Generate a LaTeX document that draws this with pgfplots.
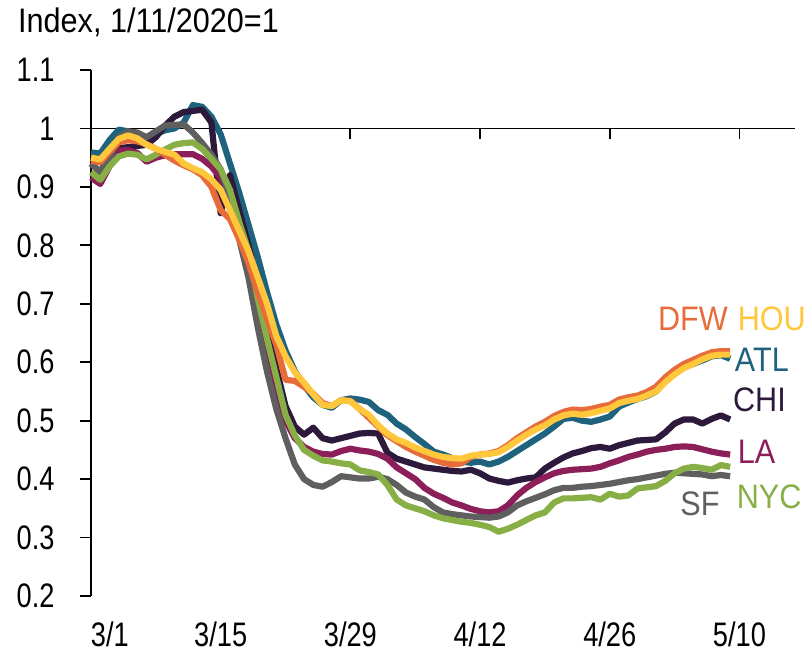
\documentclass[border=0pt]{standalone}
\usepackage{fontspec}
\setmainfont[FakeStretch=0.9]{Liberation Sans}
\newfontfamily\tickfont[FakeStretch=0.8]{Liberation Sans}
\usepackage{pgfplots}
\usepackage{pgfplotstable}
\pgfplotsset{compat=1.18}
\definecolor{cDFW}{HTML}{E86B3A}
\definecolor{cHOU}{HTML}{FFC83C}
\definecolor{cATL}{HTML}{1E627D}
\definecolor{cCHI}{HTML}{2D193C}
\definecolor{cLA}{HTML}{8C1E5A}
\definecolor{cSF}{HTML}{5F5F5F}
\definecolor{cNYC}{HTML}{87AF46}
\pgfplotstableread{
day dfw hou atl chi la sf nyc
0 0.945 0.950 0.959 0.940 0.916 0.940 0.925
1 0.942 0.947 0.957 0.925 0.905 0.925 0.912
2 0.960 0.965 0.980 0.955 0.935 0.950 0.935
3 0.976 0.982 0.998 0.966 0.962 0.985 0.952
4 0.980 0.988 0.995 0.968 0.963 0.995 0.957
5 0.978 0.983 0.990 0.970 0.958 0.993 0.955
6 0.973 0.972 0.982 0.972 0.943 0.985 0.947
7 0.965 0.965 0.990 0.985 0.950 0.995 0.955
8 0.955 0.960 0.997 1.005 0.954 1.005 0.964
9 0.945 0.955 1.000 1.020 0.956 1.006 0.972
10 0.937 0.940 1.010 1.028 0.956 1.007 0.975
11 0.930 0.932 1.040 1.030 0.956 0.993 0.976
12 0.920 0.925 1.037 1.032 0.948 0.975 0.965
13 0.900 0.913 1.020 1.010 0.935 0.955 0.948
14 0.860 0.895 0.990 0.855 0.915 0.930 0.930
15 0.845 0.860 0.940 0.920 0.880 0.880 0.895
16 0.810 0.825 0.890 0.860 0.830 0.810 0.840
17 0.770 0.790 0.835 0.800 0.770 0.745 0.790
18 0.720 0.745 0.780 0.735 0.700 0.660 0.710
19 0.675 0.700 0.720 0.665 0.630 0.584 0.640
20 0.630 0.645 0.665 0.590 0.560 0.520 0.575
21 0.570 0.610 0.620 0.525 0.500 0.470 0.510
22 0.568 0.583 0.585 0.490 0.470 0.425 0.475
23 0.558 0.565 0.560 0.476 0.455 0.400 0.450
24 0.546 0.545 0.540 0.488 0.447 0.390 0.440
25 0.530 0.527 0.527 0.470 0.443 0.387 0.432
26 0.525 0.525 0.522 0.466 0.442 0.395 0.430
27 0.535 0.535 0.535 0.470 0.448 0.405 0.427
28 0.534 0.533 0.538 0.474 0.452 0.403 0.425
29 0.520 0.520 0.536 0.478 0.449 0.401 0.415
30 0.505 0.510 0.532 0.479 0.447 0.401 0.412
31 0.490 0.492 0.518 0.478 0.443 0.404 0.408
32 0.475 0.478 0.510 0.445 0.435 0.400 0.390
33 0.465 0.468 0.495 0.435 0.420 0.390 0.365
34 0.455 0.462 0.485 0.430 0.410 0.377 0.355
35 0.447 0.454 0.472 0.425 0.400 0.370 0.350
36 0.440 0.448 0.460 0.420 0.385 0.365 0.345
37 0.433 0.442 0.447 0.418 0.375 0.352 0.338
38 0.428 0.438 0.442 0.416 0.368 0.343 0.333
39 0.425 0.436 0.436 0.414 0.360 0.340 0.330
40 0.427 0.435 0.430 0.413 0.355 0.338 0.327
41 0.438 0.440 0.428 0.416 0.349 0.336 0.325
42 0.442 0.442 0.430 0.410 0.345 0.335 0.322
43 0.444 0.443 0.425 0.401 0.343 0.334 0.318
44 0.448 0.446 0.430 0.397 0.345 0.336 0.310
45 0.458 0.455 0.438 0.394 0.355 0.343 0.315
46 0.470 0.466 0.448 0.398 0.372 0.355 0.322
47 0.480 0.476 0.458 0.401 0.385 0.362 0.330
48 0.490 0.485 0.468 0.403 0.395 0.368 0.338
49 0.498 0.492 0.478 0.418 0.403 0.374 0.343
50 0.508 0.502 0.490 0.428 0.410 0.381 0.360
51 0.515 0.509 0.503 0.437 0.414 0.385 0.367
52 0.519 0.512 0.505 0.444 0.416 0.385 0.367
53 0.518 0.510 0.500 0.448 0.417 0.387 0.368
54 0.520 0.513 0.498 0.453 0.418 0.388 0.369
55 0.524 0.517 0.502 0.455 0.421 0.390 0.365
56 0.527 0.521 0.507 0.452 0.427 0.392 0.375
57 0.536 0.530 0.524 0.458 0.432 0.395 0.370
58 0.540 0.534 0.531 0.462 0.438 0.398 0.372
59 0.543 0.537 0.537 0.466 0.442 0.400 0.384
60 0.549 0.543 0.542 0.467 0.447 0.403 0.386
61 0.558 0.550 0.550 0.468 0.450 0.406 0.388
62 0.574 0.566 0.568 0.480 0.452 0.409 0.397
63 0.587 0.579 0.580 0.495 0.455 0.411 0.410
64 0.597 0.590 0.592 0.502 0.456 0.410 0.418
65 0.604 0.597 0.597 0.502 0.455 0.409 0.421
66 0.611 0.605 0.603 0.495 0.451 0.408 0.419
67 0.617 0.611 0.610 0.503 0.447 0.405 0.416
68 0.619 0.613 0.612 0.509 0.444 0.407 0.424
69 0.619 0.613 0.606 0.502 0.442 0.405 0.421
}\data
\begin{document}
\fontsize{34}{40}\selectfont
\begin{tikzpicture}
\begin{axis}[
  scale only axis, width=704pt, height=526pt,
  xmin=0, xmax=76, ymin=0.2, ymax=1.1,
  axis x line*=bottom, axis y line*=left,
  x axis line style={draw=none},
  y axis line style={line width=1.8pt, black},
  ytick={0.2,0.3,0.4,0.5,0.6,0.7,0.8,0.9,1,1.1},
  yticklabels={0.2,0.3,0.4,0.5,0.6,0.7,0.8,0.9,1,1.1},
  xtick={0,14,28,42,56,70},
  xticklabels={\makebox[0pt][l]{3/1},3/15,3/29,4/12,4/26,5/10},
  tick align=outside, major tick length=11pt,
  ytick style={black, line width=1.8pt},
  xtick style={draw=none},
  ticklabel style={font=\tickfont\fontsize{34}{40}\selectfont},
  yticklabel style={anchor=east, xshift=-14pt},
  xticklabel style={yshift=-3pt},
  clip=false,
]
\draw[line width=1.8pt, black] (axis cs:0,1) -- (axis cs:76,1);
\pgfplotsinvokeforeach{14,28,42,56,70}{\draw[line width=1.8pt, black] (axis cs:#1,1) -- ++(0pt,-11pt);}
\addplot[cATL, line width=6.2pt, line join=round] table[x=day,y=atl]{\data};
\addplot[cCHI, line width=6.2pt, line join=round] table[x=day,y=chi]{\data};
\addplot[cLA, line width=6.2pt, line join=round] table[x=day,y=la]{\data};
\addplot[cSF, line width=6.2pt, line join=round] table[x=day,y=sf]{\data};
\addplot[cNYC, line width=6.2pt, line join=round] table[x=day,y=nyc]{\data};
\addplot[cDFW, line width=6.2pt, line join=round] table[x=day,y=dfw]{\data};
\addplot[cHOU, line width=6.2pt, line join=round] table[x=day,y=hou]{\data};
\node[anchor=west, inner sep=0, text=cDFW] at (axis cs:61.2,0.674) {DFW};
\node[anchor=west, inner sep=0, text=cHOU] at (axis cs:69.8,0.674) {HOU};
\node[anchor=west, inner sep=0, text=cATL] at (axis cs:69.5,0.604) {ATL};
\node[anchor=west, inner sep=0, text=cCHI] at (axis cs:69.3,0.536) {CHI};
\node[anchor=west, inner sep=0, text=cLA] at (axis cs:69.8,0.447) {LA};
\node[anchor=west, inner sep=0, text=cSF] at (axis cs:63.6,0.358) {SF};
\node[anchor=west, inner sep=0, text=cNYC] at (axis cs:69.7,0.370) {NYC};
\end{axis}
\node[anchor=base west, inner sep=0] at (-73pt,563pt) {Index, 1/11/2020=1};
\pgfresetboundingbox
\path (-91pt,-60pt) rectangle (718pt,596pt);
\end{tikzpicture}
\end{document}
